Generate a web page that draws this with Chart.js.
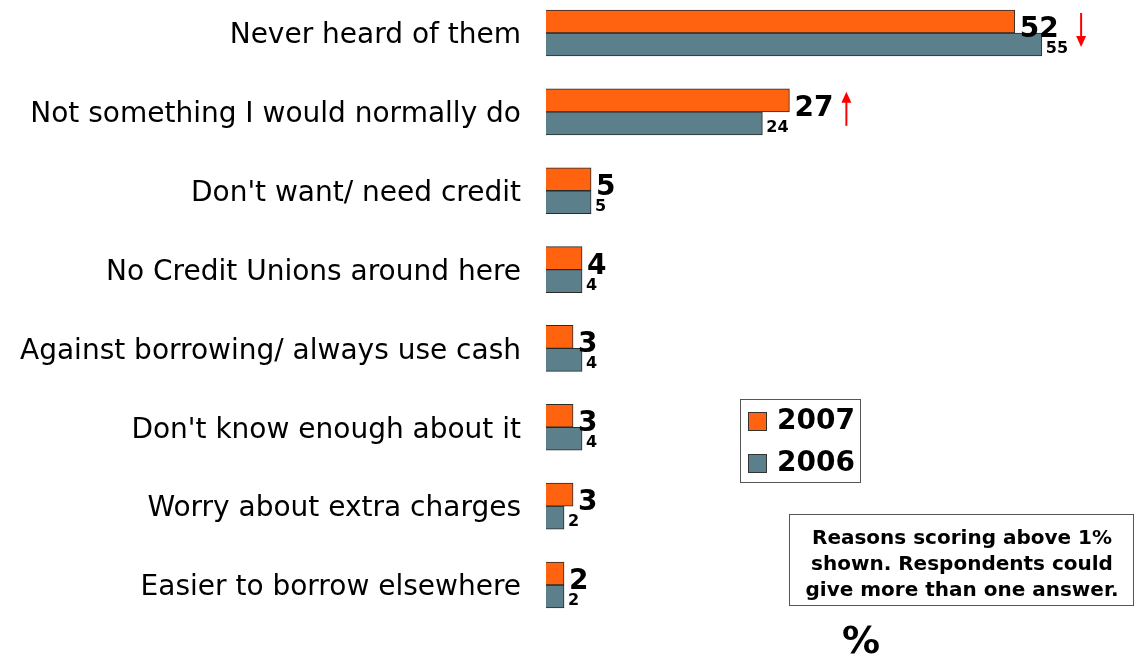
<!DOCTYPE html>
<html>
<head>
<meta charset="utf-8">
<title>Reasons for not using a Credit Union</title>
<script src="https://cdn.jsdelivr.net/npm/chart.js@4"></script>
<style>
  html, body { margin: 0; padding: 0; background: #fff; }
  #wrap { width: 1136px; height: 659px; position: relative; }
</style>
</head>
<body>
<div id="wrap"><canvas id="reasons"></canvas></div>
<script>
const categories = [
  'Never heard of them',
  'Not something I would normally do',
  "Don't want/ need credit",
  'No Credit Unions around here',
  'Against borrowing/ always use cash',
  "Don't know enough about it",
  'Worry about extra charges',
  'Easier to borrow elsewhere'
];
const values2007 = [52, 27, 5, 4, 3, 3, 3, 2];
const values2006 = [55, 24, 5, 4, 4, 4, 2, 2];
// significant change vs previous year
const trend = ['down', 'up', null, null, null, null, null, null];
const noteLines = [
  'Reasons scoring above 1%',
  'shown. Respondents could',
  'give more than one answer.'
];

const ORANGE = '#ff6310';
const SLATE = '#5b808c';
const FONT = '"DejaVu Sans", Verdana, sans-serif';

// value labels next to each bar, plus the red change arrows
const valueLabels = {
  id: 'valueLabels',
  afterDatasetsDraw(chart) {
    const ctx = chart.ctx;
    const m07 = chart.getDatasetMeta(0).data;
    const m06 = chart.getDatasetMeta(1).data;
    ctx.save();
    ctx.fillStyle = '#000';
    ctx.textAlign = 'left';
    ctx.textBaseline = 'alphabetic';
    m07.forEach((bar, i) => {
      const b06 = m06[i];
      const split = (bar.y + b06.y) / 2;

      ctx.font = 'bold 28px ' + FONT;
      const t07 = String(values2007[i]);
      const x07 = bar.x + 5;
      ctx.fillText(t07, x07, split + 4);
      const end07 = x07 + ctx.measureText(t07).width;

      ctx.font = 'bold 16px ' + FONT;
      const t06 = String(values2006[i]);
      const x06 = b06.x + 4;
      ctx.fillText(t06, x06, split + 20);
      const end06 = x06 + ctx.measureText(t06).width;

      if (trend[i]) {
        const ax = Math.max(end07, end06) + 13;
        const top = split - 20, bot = split + 14;
        ctx.strokeStyle = '#ff0000';
        ctx.fillStyle = '#ff0000';
        ctx.lineWidth = 2;
        ctx.beginPath();
        if (trend[i] === 'down') {
          ctx.moveTo(ax, top); ctx.lineTo(ax, bot - 8);
          ctx.stroke();
          ctx.beginPath();
          ctx.moveTo(ax - 5, bot - 11); ctx.lineTo(ax + 5, bot - 11); ctx.lineTo(ax, bot);
        } else {
          ctx.moveTo(ax, bot); ctx.lineTo(ax, top + 8);
          ctx.stroke();
          ctx.beginPath();
          ctx.moveTo(ax - 5, top + 11); ctx.lineTo(ax + 5, top + 11); ctx.lineTo(ax, top);
        }
        ctx.closePath();
        ctx.fill();
        ctx.fillStyle = '#000';
      }
    });
    ctx.restore();
  }
};

// boxed legend, footnote box and the % unit mark
const extras = {
  id: 'extras',
  afterDraw(chart) {
    const ctx = chart.ctx;
    ctx.save();

    // legend
    ctx.strokeStyle = '#555';
    ctx.lineWidth = 1;
    ctx.strokeRect(740.5, 399.5, 120, 83);
    chart.data.datasets.forEach((ds, i) => {
      const y = 412 + i * 42;
      ctx.fillStyle = ds.backgroundColor;
      ctx.fillRect(748, y, 19, 19);
      ctx.strokeStyle = '#333';
      ctx.strokeRect(748.5, y + 0.5, 18, 18);
      ctx.fillStyle = '#000';
      ctx.font = 'bold 28px ' + FONT;
      ctx.textAlign = 'left';
      ctx.textBaseline = 'middle';
      ctx.fillText(ds.label, 777, y + 10);
    });

    // footnote
    ctx.strokeStyle = '#555';
    ctx.strokeRect(789.5, 514.5, 344, 91);
    ctx.fillStyle = '#000';
    ctx.font = 'bold 20px ' + FONT;
    ctx.textAlign = 'center';
    ctx.textBaseline = 'middle';
    noteLines.forEach((line, i) => ctx.fillText(line, 962, 539 + i * 26));

    ctx.font = 'bold 38px ' + FONT;
    ctx.fillText('%', 861, 643);
    ctx.restore();
  }
};

new Chart(document.getElementById('reasons'), {
  type: 'bar',
  data: {
    labels: categories,
    datasets: [
      {
        label: '2007',
        data: values2007,
        backgroundColor: ORANGE,
        borderColor: '#2a2a2a',
        borderWidth: 1,
        barThickness: 23,
        clip: false
      },
      {
        label: '2006',
        data: values2006,
        backgroundColor: SLATE,
        borderColor: '#2a2a2a',
        borderWidth: 1,
        barThickness: 23,
        clip: false
      }
    ]
  },
  options: {
    indexAxis: 'y',
    responsive: true,
    maintainAspectRatio: false,
    animation: false,
    layout: { padding: { top: 33, bottom: 74, left: 0, right: 4 } },
    scales: {
      x: { display: false, min: 0, max: 65 },
      y: {
        offset: false,
        grid: { display: false, drawTicks: false },
        border: { display: false },
        afterFit(scale) {
          scale.width = 546;
          scale.paddingTop = 0;
          scale.paddingBottom = 0;
        },
        ticks: {
          autoSkip: false,
          padding: 25,
          labelOffset: 3,
          color: '#000',
          font: { family: FONT, size: 28 }
        }
      }
    },
    plugins: {
      legend: { display: false },
      tooltip: { enabled: false }
    }
  },
  plugins: [valueLabels, extras]
});
</script>
</body>
</html>
